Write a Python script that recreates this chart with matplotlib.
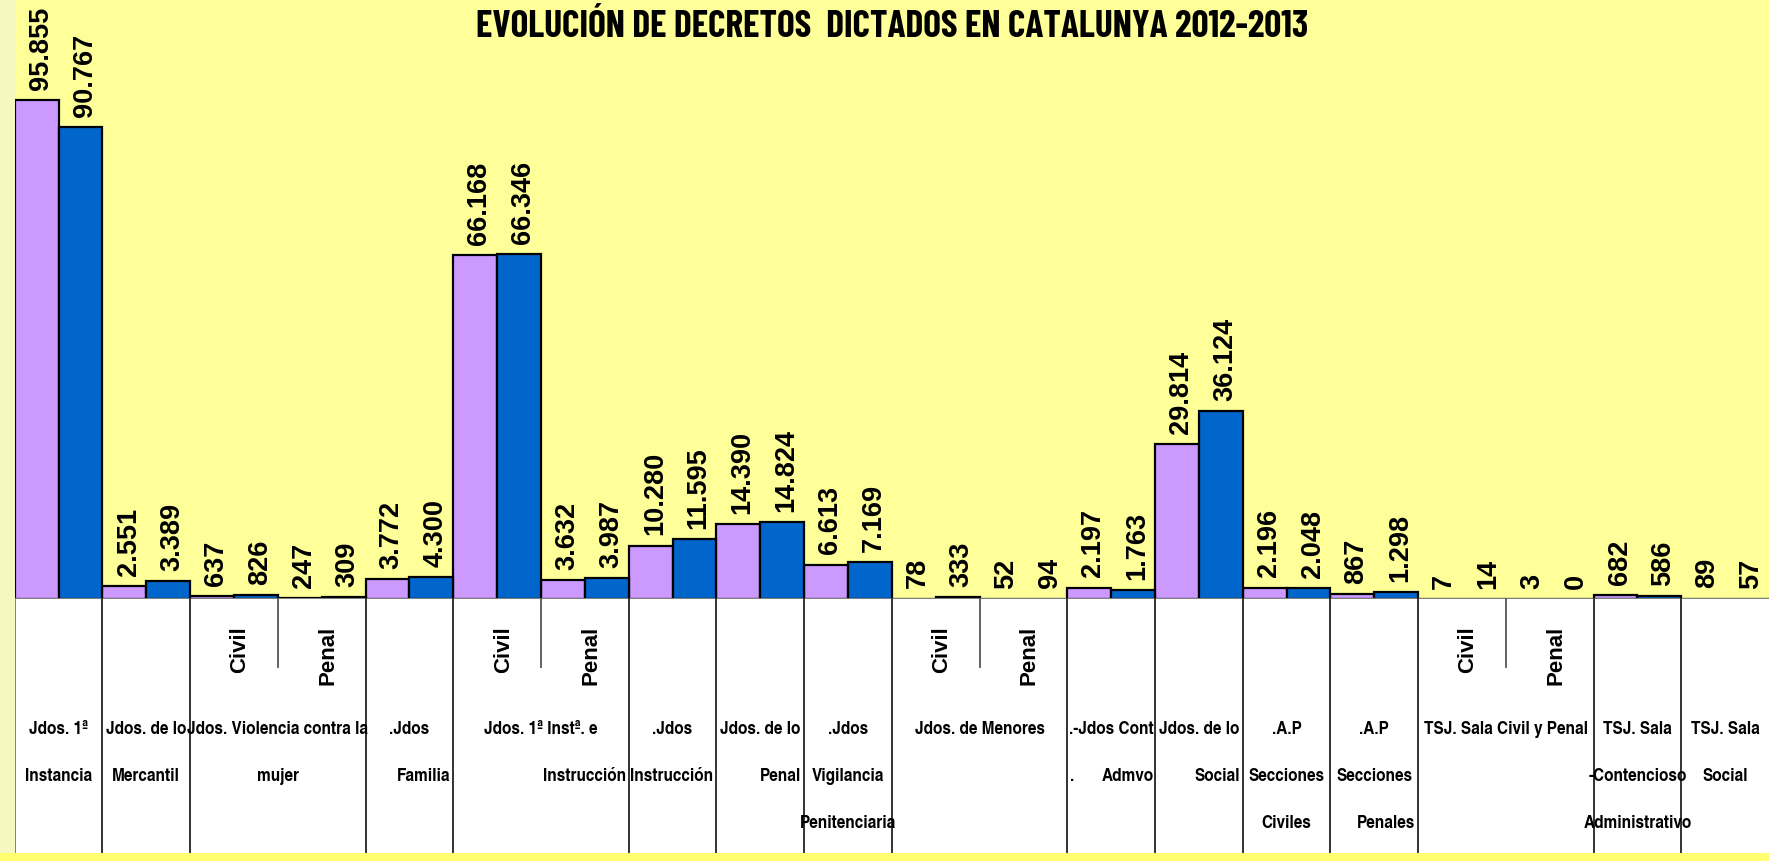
import numpy as np
import matplotlib
matplotlib.use("Agg")
import matplotlib.pyplot as plt
import matplotlib.font_manager as fm
from matplotlib.patches import Rectangle

# ---------------- data ----------------
title = "EVOLUCIÓN DE DECRETOS  DICTADOS EN CATALUNYA 2012-2013"
series_names = ["2012", "2013"]
values_2012 = [95855, 2551, 637, 247, 3772, 66168, 3632, 10280, 14390, 6613,
               78, 52, 2197, 29814, 2196, 867, 7, 3, 682, 89]
values_2013 = [90767, 3389, 826, 309, 4300, 66346, 3987, 11595, 14824, 7169,
               333, 94, 1763, 36124, 2048, 1298, 14, 0, 586, 57]
# sub-level labels (Civil / Penal) by column index
sub_labels = {2: "Civil", 3: "Penal", 5: "Civil", 6: "Penal",
              10: "Civil", 11: "Penal", 16: "Civil", 17: "Penal"}
# main category labels: (first column, number of columns, lines)
category_labels = [
    (0, 1, [("Jdos. 1ª", "c"), ("Instancia", "c")]),
    (1, 1, [("Jdos. de lo", "c"), ("Mercantil", "c")]),
    (2, 2, [("Jdos. Violencia contra la", "c"), ("mujer", "c")]),
    (4, 1, [(".Jdos", "c"), ("Familia", "r")]),
    (5, 2, [("Jdos. 1ª Instª. e", "c"), ("Instrucción", "r")]),
    (7, 1, [(".Jdos", "c"), ("Instrucción", "r")]),
    (8, 1, [("Jdos. de lo", "c"), ("Penal", "r")]),
    (9, 1, [(".Jdos", "c"), ("Vigilancia", "c"), ("Penitenciaria", "c")]),
    (10, 2, [("Jdos. de Menores", "c")]),
    (12, 1, [(".-Jdos Cont", "c"), (".", "l")]),
    (13, 1, [("Jdos. de lo", "c"), ("Social", "r")]),
    (14, 1, [(".A.P", "c"), ("Secciones", "c"), ("Civiles", "c")]),
    (15, 1, [(".A.P", "c"), ("Secciones", "c"), ("Penales", "r")]),
    (16, 2, [("TSJ. Sala Civil y Penal", "c")]),
    (18, 1, [("TSJ. Sala", "c"), ("-Contencioso", "c"), ("Administrativo", "c")]),
    (19, 1, [("TSJ. Sala", "c"), ("Social", "c")]),
]
extra_right_lines = [(12, 1, 2, "Admvo")]  # (col, span, line number, text) right aligned

# ---------------- fonts ----------------
names = {f.name for f in fm.fontManager.ttflist}

def pick(cands, default="DejaVu Sans"):
    for c in cands:
        if c in names:
            return c
    return default

NARROW = pick(["TeX Gyre Heros Cn", "Liberation Sans Narrow", "PT Sans Narrow",
               "Roboto Condensed", "Archivo Narrow"])
TITLE_FONT = pick(["Barlow Condensed", "Fira Sans Extra Condensed", "Roboto Condensed",
                   "TeX Gyre Heros Cn"])
SANS = pick(["Liberation Sans"])

# ---------------- figure ----------------
FW, FH = 1769, 862
fig = plt.figure(figsize=(FW / 100, FH / 100), dpi=100)
fig.patch.set_facecolor("#FFFF99")

x_left = 14.7
axis_y = 600      # px from top
tab_bottom = 854  # px from top

# left patterned strip and bottom stripe
fig.patches.append(Rectangle((0, 0), x_left / FW, 1, transform=fig.transFigure,
                             facecolor="#F7F7C0", edgecolor="none", zorder=0))
fig.patches.append(Rectangle((0, 0), 1, (FH - tab_bottom) / FH, transform=fig.transFigure,
                             facecolor="#FFFF70", edgecolor="none", zorder=0))

ax = fig.add_axes([x_left / FW, (FH - axis_y) / FH, (FW - x_left) / FW, axis_y / FH])
ax.set_facecolor("#FFFF99")
n = len(values_2012)
x = np.arange(n) + 0.5
ymax = 95855 * axis_y / 498.5
ax.set_xlim(0, n)
ax.set_ylim(0, ymax)
for s in ["top", "right", "left"]:
    ax.spines[s].set_visible(False)
ax.spines["bottom"].set_color("#808080")
ax.spines["bottom"].set_linewidth(1.5)
ax.set_xticks([])
ax.set_yticks([])

w = 0.5
b1 = ax.bar(x - w / 2, values_2012, width=w, color="#CC99FF", edgecolor="black",
            linewidth=1.6, label=series_names[0])
b2 = ax.bar(x + w / 2, values_2013, width=w, color="#0066CC", edgecolor="black",
            linewidth=1.6, label=series_names[1])

def fmt(v):
    return f"{v:,}".replace(",", ".")

for bars, vals in ((b1, values_2012), (b2, values_2013)):
    for r, v in zip(bars, vals):
        ax.annotate(fmt(v), (r.get_x() + r.get_width() / 2, v),
                    xytext=(3, 8), textcoords="offset points",
                    rotation=90, ha="center", va="bottom",
                    fontsize=19.5, fontweight="bold", family=SANS,
                    annotation_clip=False)

# ---------------- category table ----------------
tab = fig.add_axes([x_left / FW, (FH - tab_bottom) / FH, (FW - x_left) / FW,
                    (tab_bottom - axis_y) / FH])
tab.set_facecolor("white")
tab.set_xlim(0, n)
tab.set_ylim(tab_bottom, axis_y)
for s in tab.spines.values():
    s.set_visible(False)
tab.set_xticks([])
tab.set_yticks([])

px = n / (FW - x_left)  # data units per pixel horizontally
short = {3, 6, 11, 17}
for b in range(0, n):
    if b in short:
        tab.plot([b, b], [axis_y, 668], color="#555555", lw=1.3, clip_on=False)
    else:
        tab.plot([b, b], [axis_y, FH], color="#222222" if b else "#777777", lw=1.3,
                 clip_on=False)

for col, lab in sub_labels.items():
    tab.text(col + 0.5 + 6 * px, 626, lab, rotation=90, ha="center", va="top",
             fontsize=16, fontweight="bold", family=SANS)

line_y = [730, 777, 824]
CAT_FS = 13.5
for start, span, lines in category_labels:
    for i, (txt, al) in enumerate(lines):
        if al == "c":
            xx, ha = start + span / 2, "center"
        elif al == "r":
            xx, ha = start + span - 3 * px, "right"
        else:
            xx, ha = start + 3 * px, "left"
        tab.text(xx, line_y[i], txt, ha=ha, va="center", fontsize=CAT_FS,
                 fontweight="bold", family=NARROW, clip_on=False)
for col, span, ln, txt in extra_right_lines:
    tab.text(col + span - 1 * px, line_y[ln - 1], txt, ha="right", va="center",
             fontsize=CAT_FS, fontweight="bold", family=NARROW)

# ---------------- title (fit to width) ----------------
t = fig.text(892 / FW, 1 - 27 / FH, title, ha="center", va="center",
             fontsize=26, fontweight="bold", family=TITLE_FONT)
fig.canvas.draw()
bb = t.get_window_extent()
t.set_fontsize(26 * 836 / bb.width)

fig.savefig("out.png", dpi=100, facecolor=fig.get_facecolor())
